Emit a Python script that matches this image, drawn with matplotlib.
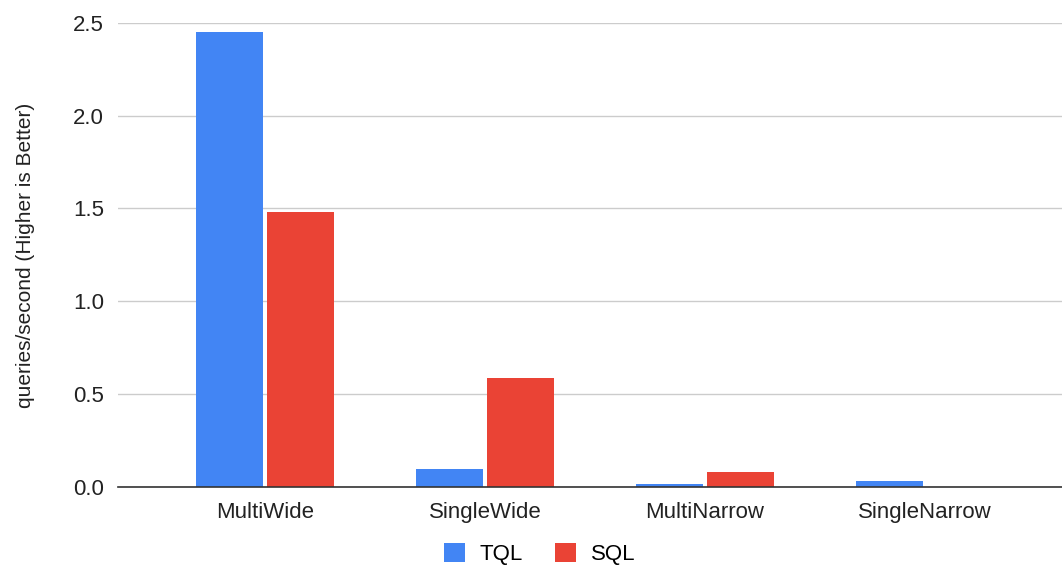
import numpy as np
import matplotlib
matplotlib.use("Agg")
import matplotlib.pyplot as plt

plt.rcParams["font.family"] = ["Liberation Sans", "DejaVu Sans"]

categories = ["MultiWide", "SingleWide", "MultiNarrow", "SingleNarrow"]
tql = [2.45, 0.095, 0.014, 0.032]
sql = [1.48, 0.585, 0.082, 0.0]
yticks = [0.0, 0.5, 1.0, 1.5, 2.0, 2.5]

blue = "#4285F4"
red = "#EA4335"

fig = plt.figure(figsize=(10.62, 5.69), dpi=100)
ax = fig.add_axes([0.111, 0.144, 0.889, 0.816])

x = np.arange(len(categories))
w = 0.305
gap = 0.01
ax.bar(x - w / 2 - gap, tql, width=w, color=blue, label="TQL", zorder=3)
ax.bar(x + w / 2 + gap, sql, width=w, color=red, label="SQL", zorder=3)

ax.set_xlim(-0.668, 3.623)
ax.set_ylim(0, 2.5)
ax.set_yticks(yticks)
ax.set_yticklabels(["%.1f" % t for t in yticks], fontsize=16, color="#222222")
ax.set_xticks(x)
ax.set_xticklabels(categories, fontsize=16, color="#222222")
ax.tick_params(axis="y", length=0, pad=10)
ax.tick_params(axis="x", length=0, pad=11)

ax.grid(axis="y", color="#cccccc", linewidth=1, zorder=0)
for s in ["top", "right", "left"]:
    ax.spines[s].set_visible(False)
ax.spines["bottom"].set_color("#333333")
ax.spines["bottom"].set_linewidth(1.2)
ax.spines["bottom"].set_zorder(4)

ax.set_ylabel("queries/second (Higher is Better)", fontsize=15, color="#222222", labelpad=27)

fig.legend(loc="lower center", bbox_to_anchor=(0.508, -0.028), ncol=2, frameon=False,
           fontsize=16, handlelength=0.95, handleheight=0.95, columnspacing=1.45,
           handletextpad=0.65)

fig.savefig("out.png", dpi=100)
